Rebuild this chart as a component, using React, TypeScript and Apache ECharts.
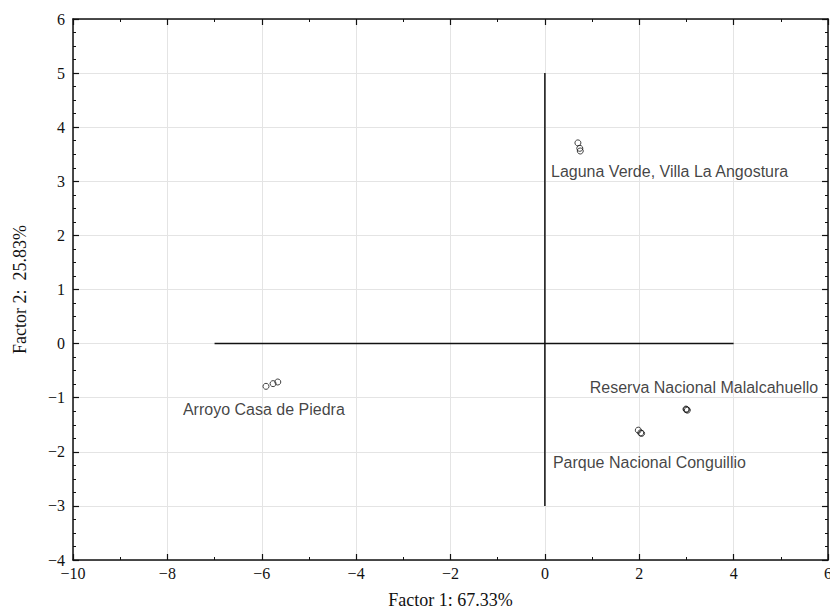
import React, { useEffect, useRef } from "react";
import * as echarts from "echarts";

const lagunaVerde: [number, number][] = [[0.7, 3.71], [0.74, 3.61], [0.75, 3.56]];
const arroyo: [number, number][] = [[-5.91, -0.79], [-5.76, -0.74], [-5.66, -0.71]];
const reserva: [number, number][] = [[2.99, -1.21], [3.0, -1.22], [3.02, -1.23]];
const parque: [number, number][] = [[1.98, -1.6], [2.03, -1.65], [2.05, -1.66]];
const siteLabels: [number, number, string][] = [
  [0.13, 3.19, "Laguna Verde, Villa La Angostura"],
  [-7.67, -1.21, "Arroyo Casa de Piedra"],
  [0.95, -0.82, "Reserva Nacional Malalcahuello"],
  [0.17, -2.19, "Parque Nacional Conguillio"],
];
const hLine: [number, number][] = [[-7, 0], [4, 0]];
const vLine: [number, number][] = [[0, -3], [0, 5]];
const xName = "Factor 1: 67.33%";
const yName = "Factor 2:  25.83%";

const serif = "'Liberation Serif', 'DejaVu Serif', serif";
const sans = "'Liberation Sans', Arial, sans-serif";
const fmt = (v: number) => String(v).replace("-", "\u2212");

export default function App() {
  const ref = useRef<HTMLDivElement>(null);
  useEffect(() => {
    if (!ref.current) return;
    const chart = echarts.init(ref.current, undefined, { renderer: "svg" });
    const axisCommon = {
      axisLine: { show: true, onZero: false, lineStyle: { color: "#111", width: 1.5 } },
      axisTick: { show: true, inside: true, length: 6, lineStyle: { color: "#111", width: 1.2 } },
      minorTick: { show: true, length: 3, lineStyle: { color: "#111", width: 1 } },
    };
    const scatterSeries = (data: [number, number][]) => ({
      type: "scatter",
      data,
      symbol: "circle",
      symbolSize: 6,
      itemStyle: { color: "rgba(255,255,255,0)", borderColor: "#111", borderWidth: 1 },
      z: 5,
    });
    chart.setOption({
      animation: false,
      grid: { left: 73, right: 2, top: 19, bottom: 54, outerBoundsMode: "none", containLabel: false },
      xAxis: [
        {
          type: "value", min: -10, max: 6, interval: 2, position: "bottom",
          ...axisCommon,
          minorTick: { ...axisCommon.minorTick, splitNumber: 2 },
          axisLabel: { color: "#111", fontFamily: serif, fontSize: 16, margin: 5, formatter: fmt },
          splitLine: { show: true, lineStyle: { color: "#e4e4e4", width: 1 } },
          name: xName, nameLocation: "middle", nameGap: 31,
          nameTextStyle: { color: "#111", fontFamily: serif, fontSize: 18 },
        },
        {
          type: "value", min: -10, max: 6, interval: 2, position: "top",
          ...axisCommon,
          minorTick: { ...axisCommon.minorTick, splitNumber: 2 },
          axisLabel: { show: false }, splitLine: { show: false },
        },
      ],
      yAxis: [
        {
          type: "value", min: -4, max: 6, interval: 1, position: "left",
          ...axisCommon,
          minorTick: { ...axisCommon.minorTick, splitNumber: 4 },
          axisLabel: { color: "#111", fontFamily: serif, fontSize: 16, margin: 8, formatter: fmt },
          splitLine: { show: true, lineStyle: { color: "#e4e4e4", width: 1 } },
          name: yName, nameLocation: "middle", nameGap: 44,
          nameTextStyle: { color: "#111", fontFamily: serif, fontSize: 18 },
        },
        {
          type: "value", min: -4, max: 6, interval: 1, position: "right",
          ...axisCommon,
          minorTick: { ...axisCommon.minorTick, splitNumber: 4 },
          axisLabel: { show: false }, splitLine: { show: false },
        },
      ],
      series: [
        {
          type: "line", data: hLine, symbol: "none", silent: true,
          lineStyle: { color: "#111", width: 1.5 }, z: 3,
        },
        {
          type: "line", data: vLine, symbol: "none", silent: true,
          lineStyle: { color: "#111", width: 1.5 }, z: 3,
        },
        scatterSeries(lagunaVerde),
        scatterSeries(arroyo),
        scatterSeries(reserva),
        scatterSeries(parque),
        {
          type: "scatter",
          data: siteLabels.map((d) => ({ value: [d[0], d[1]], name: d[2] })),
          symbolSize: 0,
          silent: true,
          label: {
            show: true, position: "right", distance: 0,
            formatter: (p: any) => p.name,
            color: "#111", fontFamily: sans, fontSize: 16,
          },
          z: 6,
        },
      ],
    });
    return () => chart.dispose();
  }, []);
  return (
    <div
      ref={ref}
      style={{ position: "fixed", left: 0, top: 0, width: 830, height: 614, background: "#fff" }}
    />
  );
}
